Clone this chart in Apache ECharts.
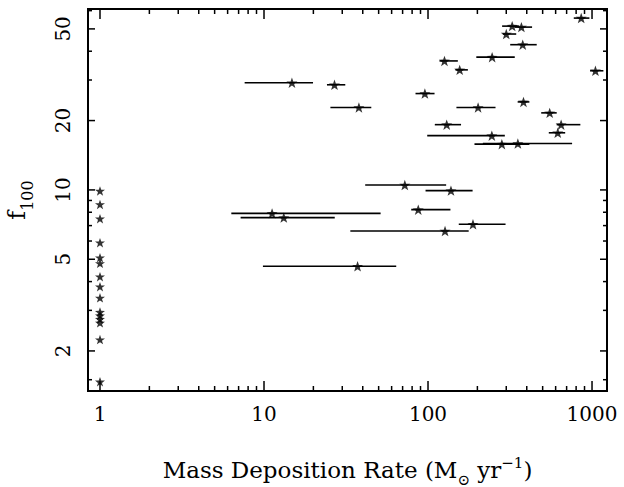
<!DOCTYPE html>
<html>
<head>
<meta charset="utf-8">
<script src="https://cdn.jsdelivr.net/npm/echarts@6/dist/echarts.min.js"></script>
<style>html,body{margin:0;padding:0;background:#fff}#c{width:624px;height:487px}</style>
</head>
<body>
<div id="c"></div>
<script>
// ---- data ----
const mdrX = [14.8, 26.9, 37.9, 95.7, 126, 156, 246, 326, 371, 300, 378, 859, 1049, 382, 202, 552, 130, 648, 618, 245, 282, 353, 72.2, 138, 87.2, 11.2, 13.2, 188, 127, 37.2];
const f100 = [29.2, 28.6, 22.8, 26.2, 36.3, 33.2, 37.7, 51.4, 50.9, 47.5, 42.7, 55.7, 32.9, 24.1, 22.8, 21.6, 19.2, 19.2, 17.7, 17.2, 15.8, 15.9, 10.5, 9.93, 8.21, 7.91, 7.58, 7.09, 6.63, 4.66];
const mdrLo = [7.62, 24.2, 25.4, 83.9, 117.5, 147, 197, 283, 337, 286, 317, 774, 973, 352, 149, 490, 110, 609, 545, 98.9, 192, 216, 41.4, 96.6, 79, 6.32, 7.2, 154, 33.6, 9.85];
const mdrHi = [19.9, 31.3, 45.1, 109.6, 152, 175, 338, 358, 431, 345, 460, 964, 1173, 415, 258, 609, 159, 849, 686, 294, 415, 756, 129, 187, 137, 51.4, 27.0, 297, 177, 64];
const noFlowX = 1;
const noFlowF100 = [9.9, 8.65, 7.5, 5.9, 5.08, 4.8, 4.2, 3.8, 3.4, 2.95, 2.85, 2.75, 2.65, 2.24, 1.47];

const X_MIN = 0.845, X_MAX = 1234;
const Y_MIN = 1.34, Y_MAX = 61;
const xTickLabels = [1, 10, 100, 1000];
const yTickLabels = [2, 5, 10, 20, 50];
const xTicks = [1,2,3,4,5,6,7,8,9,10,20,30,40,50,60,70,80,90,100,200,300,400,500,600,700,800,900,1000];
const yTicks = [1.5,2,3,4,5,6,7,8,9,10,20,30,40,50,60];

// ---- chart ----
const STAR = 'path://M1 0 L1.235 0.676 L1.951 0.691 L1.380 1.124 L1.588 1.809 L1 1.4 L0.412 1.809 L0.620 1.124 L0.049 0.691 L0.765 0.676 Z';
const FONT = '"DejaVu Serif", "Liberation Serif", serif';
const chart = echarts.init(document.getElementById('c'), null, {renderer: 'svg'});

const majorLenX = 10, minorLenX = 5, majorLenY = 7, minorLenY = 4;

const option = {
  animation: false,
  backgroundColor: '#fff',
  grid: {left: 88, right: 17, top: 9, bottom: 96, containLabel: false, outerBoundsMode: 'none',
    show: true, borderColor: '#000', borderWidth: 2, backgroundColor: 'transparent'},
  xAxis: {
    type: 'log', logBase: 10, min: X_MIN, max: X_MAX,
    axisLine: {show: true, lineStyle: {color: '#000', width: 2}},
    axisTick: {show: false}, axisLabel: {show: false}, splitLine: {show: false},
    name: '{a|Mass Deposition Rate (M}{sub|⊙}{a| yr}{sup|−1}{a|)}',
    nameLocation: 'middle', nameGap: 64,
    nameTextStyle: {
      rich: {
        a: {fontFamily: FONT, fontSize: 23, color: '#000', verticalAlign: 'bottom', padding: [0, 0, 6, 0]},
        sub: {fontFamily: FONT, fontSize: 15, color: '#000', verticalAlign: 'bottom', padding: [0, 0, 0, 0]},
        sup: {fontFamily: FONT, fontSize: 15, color: '#000', verticalAlign: 'bottom', padding: [0, 0, 17, 0]}
      }
    }
  },
  yAxis: {
    type: 'log', logBase: 10, min: Y_MIN, max: Y_MAX,
    axisLine: {show: true, lineStyle: {color: '#000', width: 2}},
    axisTick: {show: false}, axisLabel: {show: false}, splitLine: {show: false},
    name: '{f|f}{sub|100}',
    nameLocation: 'middle', nameGap: 53, nameRotate: 90,
    nameTextStyle: {
      rich: {
        f: {fontFamily: FONT, fontSize: 24, color: '#000', verticalAlign: 'bottom', padding: [0, 0, 6, 0]},
        sub: {fontFamily: FONT, fontSize: 16, color: '#000', verticalAlign: 'bottom'}
      }
    }
  },
  series: [
    // x ticks (bottom & top)
    {
      type: 'custom', silent: true, clip: false,
      data: xTicks.map(v => [v, Y_MIN]),
      renderItem: function (params, api) {
        const v = api.value(0);
        const x = api.coord([v, Y_MIN])[0];
        const cs = params.coordSys;
        const len = xTickLabels.indexOf(v) >= 0 ? majorLenX : minorLenX;
        const yb = cs.y + cs.height, yt = cs.y;
        const st = {stroke: '#000', lineWidth: 1.5};
        return {type: 'group', children: [
          {type: 'line', shape: {x1: x, y1: yb, x2: x, y2: yb - len}, style: st},
          {type: 'line', shape: {x1: x, y1: yt, x2: x, y2: yt + len}, style: st}
        ]};
      }
    },
    // y ticks (left & right)
    {
      type: 'custom', silent: true, clip: false,
      data: yTicks.map(v => [X_MIN, v]),
      renderItem: function (params, api) {
        const v = api.value(1);
        const y = api.coord([X_MIN, v])[1];
        const cs = params.coordSys;
        const len = yTickLabels.indexOf(v) >= 0 ? majorLenY : minorLenY;
        const xl = cs.x, xr = cs.x + cs.width;
        const st = {stroke: '#000', lineWidth: 1.5};
        return {type: 'group', children: [
          {type: 'line', shape: {x1: xl, y1: y, x2: xl + len, y2: y}, style: st},
          {type: 'line', shape: {x1: xr, y1: y, x2: xr - len, y2: y}, style: st}
        ]};
      }
    },
    // x tick labels
    {
      type: 'custom', silent: true, clip: false,
      data: xTickLabels.map(v => [v, Y_MIN]),
      renderItem: function (params, api) {
        const v = api.value(0);
        const p = api.coord([v, Y_MIN]);
        return {type: 'text', x: p[0], y: p[1] + 23,
          style: {text: String(xTickLabels[params.dataIndex]), fill: '#000', font: '20px ' + FONT,
            align: 'center', verticalAlign: 'middle', textAlign: 'center', textVerticalAlign: 'middle'}};
      }
    },
    // y tick labels (rotated)
    {
      type: 'custom', silent: true, clip: false,
      data: yTickLabels.map(v => [X_MIN, v]),
      renderItem: function (params, api) {
        const v = api.value(1);
        const p = api.coord([X_MIN, v]);
        return {type: 'text', x: p[0] - 25, y: p[1], rotation: Math.PI / 2,
          style: {text: String(yTickLabels[params.dataIndex]), fill: '#000', font: '20px ' + FONT,
            align: 'center', verticalAlign: 'middle', textAlign: 'center', textVerticalAlign: 'middle'}};
      }
    },
    // horizontal error bars
    {
      type: 'custom', silent: true,
      data: mdrX.map((x, i) => [mdrLo[i], mdrHi[i], f100[i]]),
      renderItem: function (params, api) {
        const y = api.value(2);
        const p1 = api.coord([api.value(0), y]);
        const p2 = api.coord([api.value(1), y]);
        return {type: 'line', shape: {x1: p1[0], y1: p1[1], x2: p2[0], y2: p2[1]},
          style: {stroke: '#000', lineWidth: 1.6}};
      },
      z: 3
    },
    // main points
    {
      type: 'scatter', symbol: STAR, symbolSize: 11, symbolKeepAspect: true,
      itemStyle: {color: '#000'},
      data: mdrX.map((x, i) => [x, f100[i]]),
      z: 4
    },
    // x = 1 column
    {
      type: 'scatter', symbol: STAR, symbolSize: 10, symbolKeepAspect: true,
      itemStyle: {color: '#000'},
      data: noFlowF100.map(v => [noFlowX, v]),
      z: 4
    }
  ]
};
chart.setOption(option);
</script>
</body>
</html>
